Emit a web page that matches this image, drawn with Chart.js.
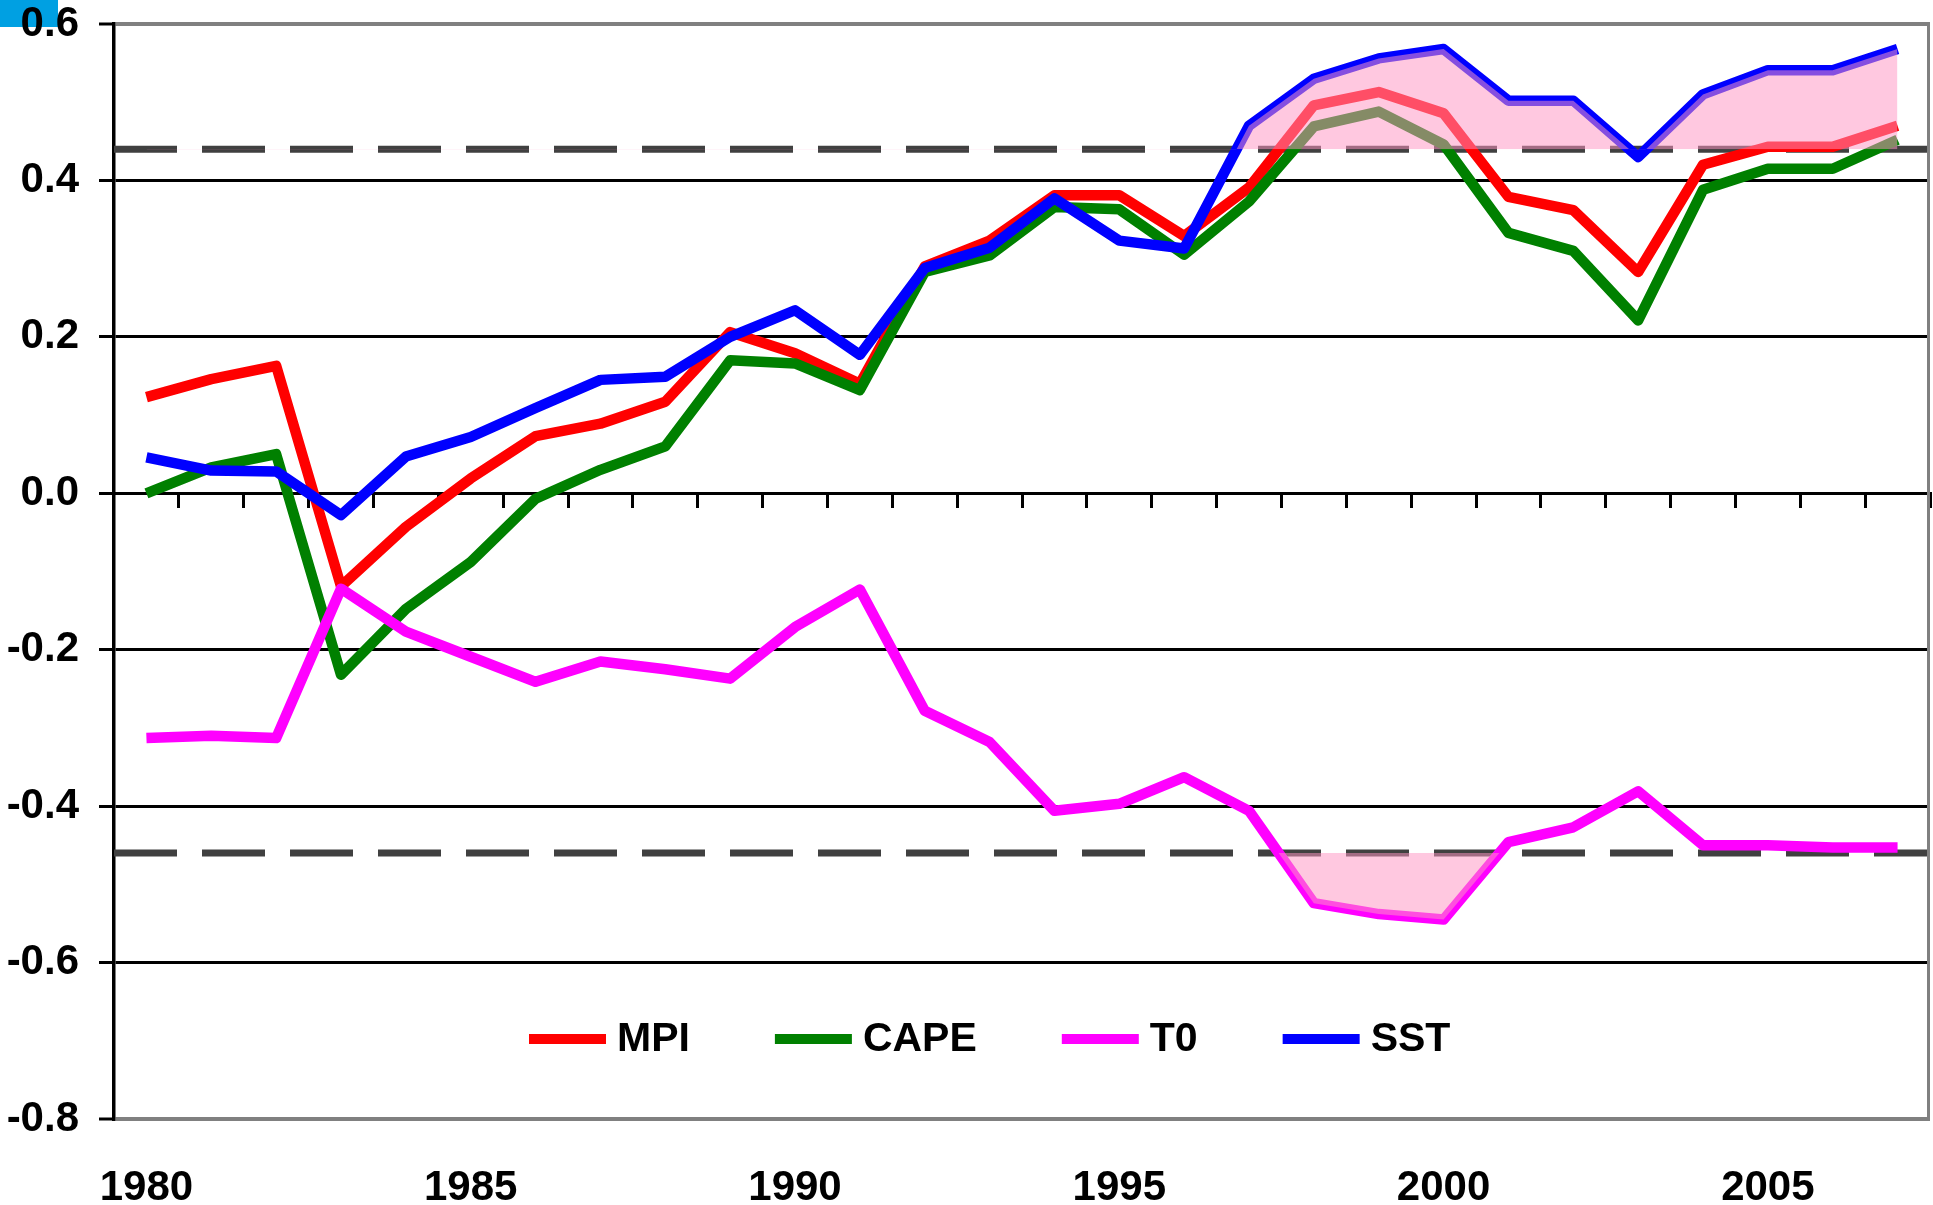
<!DOCTYPE html>
<html>
<head>
<meta charset="utf-8">
<script src="https://cdn.jsdelivr.net/npm/chart.js@4.4.1/dist/chart.umd.min.js"></script>
<style>
  html, body { margin: 0; padding: 0; background: #ffffff; }
  #wrap { position: relative; width: 1933px; height: 1205px; overflow: hidden; }
  #tab { position: absolute; left: 0; top: 0; width: 58px; height: 27px; background: rgb(0, 160, 226); }
  #c { position: absolute; left: 0; top: 0; }
</style>
</head>
<body>
<div id="wrap">
  <div id="tab"></div>
  <canvas id="c" width="1933" height="1205"></canvas>
</div>
<script>
// Annual anomalies, 1980-2007
const years = [1980, 1981, 1982, 1983, 1984, 1985, 1986, 1987, 1988, 1989,
               1990, 1991, 1992, 1993, 1994, 1995, 1996, 1997, 1998, 1999,
               2000, 2001, 2002, 2003, 2004, 2005, 2006, 2007];

const mpi  = [0.123, 0.146, 0.163, -0.119, -0.043, 0.019, 0.073, 0.089, 0.117, 0.206,
              0.179, 0.140, 0.290, 0.323, 0.381, 0.381, 0.329, 0.391, 0.496, 0.513,
              0.486, 0.379, 0.362, 0.283, 0.420, 0.443, 0.443, 0.470];

const cape = [0.000, 0.033, 0.050, -0.232, -0.148, -0.088, -0.007, 0.030, 0.060, 0.170,
              0.166, 0.132, 0.283, 0.304, 0.366, 0.363, 0.305, 0.373, 0.469, 0.488,
              0.446, 0.333, 0.310, 0.221, 0.388, 0.415, 0.415, 0.452];

const t0   = [-0.313, -0.310, -0.313, -0.122, -0.177, -0.209, -0.241, -0.215, -0.225, -0.237,
              -0.171, -0.123, -0.278, -0.318, -0.406, -0.397, -0.363, -0.406, -0.524, -0.538,
              -0.545, -0.446, -0.427, -0.381, -0.450, -0.450, -0.453, -0.453];

const sst  = [0.046, 0.029, 0.028, -0.028, 0.047, 0.072, 0.109, 0.145, 0.149, 0.200,
              0.234, 0.177, 0.288, 0.314, 0.377, 0.323, 0.313, 0.470, 0.530, 0.556,
              0.568, 0.502, 0.502, 0.430, 0.510, 0.541, 0.541, 0.568];

// Reference levels (dashed lines); shaded where SST rises above / T0 drops below them
const upperLevel = 0.44;
const lowerLevel = -0.46;

// Y-axis ticks
const yTicks = [-0.8, -0.6, -0.4, -0.2, 0.0, 0.2, 0.4, 0.6];

const FONT = "'Liberation Sans', Arial, Helvetica, sans-serif";
const FONT_SIZE = 42;
const SHADE = 'rgba(255, 150, 195, 0.52)';
const NONE = 'rgba(0, 0, 0, 0)';

Chart.defaults.font.family = FONT;
Chart.defaults.font.weight = 'bold';
Chart.defaults.font.size = FONT_SIZE;
Chart.defaults.color = '#000000';

// Dashed reference lines and the right-hand frame edge
const referenceLines = {
  id: 'referenceLines',
  beforeDatasetsDraw(chart, args, o) {
    const { ctx, chartArea: a, scales: { y } } = chart;
    ctx.save();
    ctx.strokeStyle = o.color;
    ctx.lineWidth = o.width;
    ctx.setLineDash(o.dash);
    o.values.forEach(v => {
      const py = y.getPixelForValue(v);
      ctx.beginPath();
      ctx.moveTo(a.left, py);
      ctx.lineTo(a.right, py);
      ctx.stroke();
    });
    ctx.setLineDash([]);
    ctx.strokeStyle = o.frameColor;
    ctx.lineWidth = o.frameWidth;
    ctx.beginPath();
    ctx.moveTo(a.right - o.frameWidth / 2, a.top);
    ctx.lineTo(a.right - o.frameWidth / 2, a.bottom);
    ctx.stroke();
    ctx.restore();
  }
};

// Single-row legend drawn inside the plot
const lineLegend = {
  id: 'lineLegend',
  afterDraw(chart, args, o) {
    const ctx = chart.ctx;
    ctx.save();
    ctx.font = `bold ${o.fontSize}px ${FONT}`;
    ctx.textBaseline = 'middle';
    ctx.textAlign = 'left';
    let x = o.left;
    chart.data.datasets.filter(d => !d.shade).forEach(d => {
      ctx.fillStyle = d.borderColor;
      ctx.fillRect(x, o.y - o.lineWidth / 2, o.lineLength, o.lineWidth);
      x += o.lineLength + o.textGap;
      ctx.fillStyle = '#000000';
      ctx.fillText(d.label, x, o.y + o.textShift);
      x += ctx.measureText(d.label).width + o.itemGap;
    });
    ctx.restore();
  }
};

const series = (label, data, color, order) => ({
  label, data, order,
  borderColor: color,
  backgroundColor: color,
  borderWidth: 10.5,
  borderJoinStyle: 'round',
  pointRadius: 0,
  tension: 0,
  fill: false
});

const shade = (label, data, fill) => ({
  label, data, fill,
  shade: true,
  order: 0,
  borderColor: NONE,
  borderWidth: 0,
  pointRadius: 0,
  tension: 0
});

const isEdge = (v) => Math.abs(v - 0.6) < 1e-6 || Math.abs(v + 0.8) < 1e-6;

new Chart(document.getElementById('c'), {
  type: 'line',
  data: {
    labels: years.map(String),
    datasets: [
      series('MPI', mpi, '#ff0000', 4),
      series('CAPE', cape, '#008000', 3),
      series('T0', t0, '#ff00ff', 2),
      series('SST', sst, '#0000ff', 1),
      shade('SST above level', sst, { target: { value: upperLevel }, above: SHADE, below: NONE }),
      shade('T0 below level', t0, { target: { value: lowerLevel }, above: NONE, below: SHADE })
    ]
  },
  options: {
    responsive: false,
    animation: false,
    devicePixelRatio: 1,
    events: [],
    layout: { padding: { top: 24, right: 3, left: 0, bottom: 0 } },
    plugins: {
      legend: { display: false },
      tooltip: { enabled: false },
      referenceLines: {
        values: [upperLevel, lowerLevel],
        color: '#404040', width: 7, dash: [63, 25],
        frameColor: '#808080', frameWidth: 3
      },
      lineLegend: {
        left: 529, y: 1039, lineLength: 77, lineWidth: 10,
        textGap: 11, itemGap: 85, fontSize: 41, textShift: 1
      }
    },
    scales: {
      x: {
        type: 'category',
        position: 'bottom',
        offset: true,
        grid: { display: false },
        border: { display: false },
        ticks: {
          autoSkip: false,
          maxRotation: 0,
          padding: 36,
          font: { size: FONT_SIZE, weight: 'bold' },
          callback: (v, i) => (years[i] % 5 === 0 ? String(years[i]) : '')
        },
        afterFit: (s) => { s.height = 86; s.paddingLeft = 0; s.paddingRight = 0; }
      },
      xz: {
        type: 'category',
        axis: 'x',
        position: { y: 0 },
        offset: true,
        grid: {
          offset: true,
          drawOnChartArea: false,
          drawTicks: true,
          tickLength: 13,
          tickWidth: 3,
          tickColor: '#000000',
          color: '#000000',
          lineWidth: 3
        },
        border: { display: true, color: '#000000', width: 3 },
        ticks: { display: false }
      },
      y: {
        type: 'linear',
        min: -0.8,
        max: 0.6,
        afterBuildTicks: (s) => { s.ticks = yTicks.map(v => ({ value: v })); },
        grid: {
          color: (c) => (isEdge(c.tick.value) ? '#808080' : '#000000'),
          lineWidth: (c) => (isEdge(c.tick.value) ? 4 : 3),
          tickLength: 15,
          tickWidth: 3,
          tickColor: '#000000',
          drawTicks: true
        },
        border: { display: true, color: '#000000', width: 3.5 },
        ticks: {
          padding: 20,
          font: { size: FONT_SIZE, weight: 'bold' },
          callback: (v) => (Math.abs(v) < 1e-9 ? 0 : v).toFixed(1)
        },
        afterFit: (s) => { s.width = 114; s.paddingTop = 0; s.paddingBottom = 0; }
      }
    }
  },
  plugins: [referenceLines, lineLegend]
});
</script>
</body>
</html>
